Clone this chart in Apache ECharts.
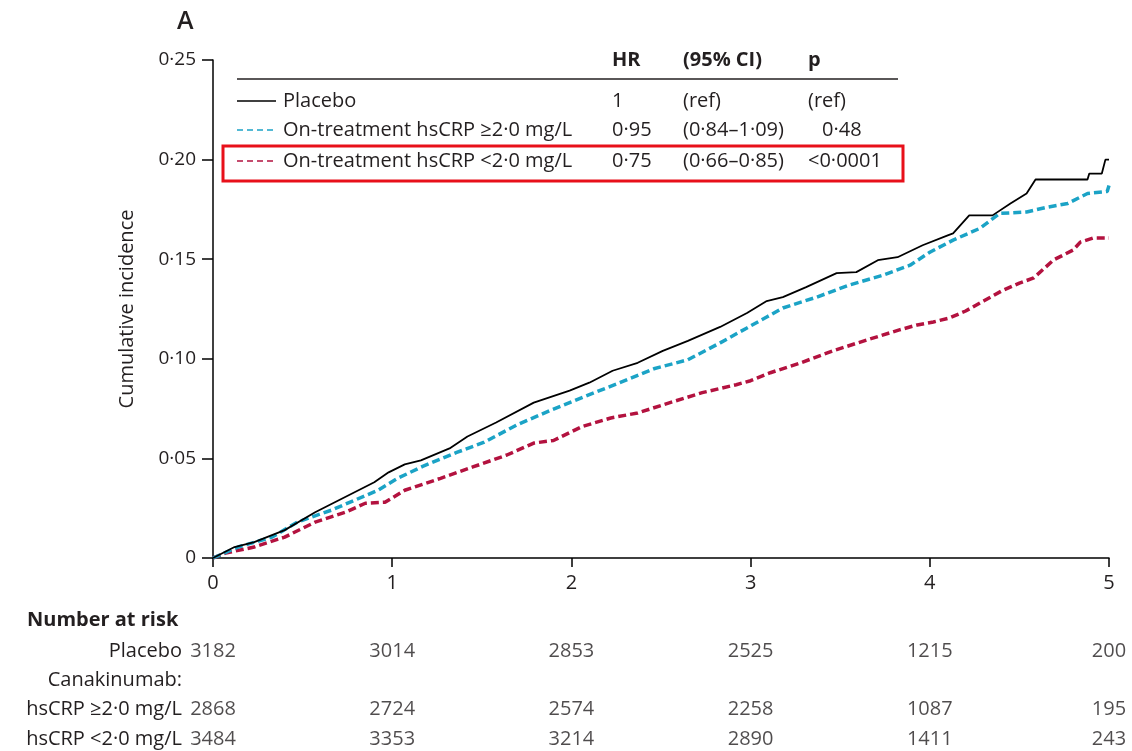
<!DOCTYPE html>
<html>
<head>
<meta charset="utf-8">
<script src="https://cdn.jsdelivr.net/npm/echarts@6/dist/echarts.min.js"></script>
<style>
  html, body { margin: 0; padding: 0; background: #fff; }
  #chart { width: 1132px; height: 751px; }
</style>
</head>
<body>
<div id="chart"></div>
<script>
// Cumulative incidence curves, [years, cumulative incidence]
const placebo = [
  [0, 0], [0.12, 0.0055], [0.23, 0.008], [0.40, 0.014], [0.57, 0.023], [0.79, 0.033],
  [0.90, 0.038], [0.98, 0.043], [1.07, 0.047], [1.16, 0.049], [1.32, 0.055], [1.42, 0.061],
  [1.58, 0.068], [1.79, 0.078], [1.99, 0.084], [2.10, 0.088], [2.23, 0.094], [2.37, 0.098],
  [2.51, 0.104], [2.65, 0.109], [2.83, 0.116], [2.98, 0.123], [3.09, 0.129], [3.18, 0.131],
  [3.31, 0.136], [3.48, 0.143], [3.59, 0.1435], [3.71, 0.1495], [3.82, 0.151], [3.96, 0.157],
  [4.10, 0.162], [4.13, 0.163], [4.22, 0.172], [4.35, 0.172], [4.45, 0.178], [4.54, 0.183],
  [4.59, 0.190], [4.88, 0.190], [4.89, 0.193], [4.96, 0.193], [4.98, 0.200], [5.0, 0.200]
];
const hsCRPHigh = [
  [0, 0], [0.14, 0.0055], [0.33, 0.0105], [0.47, 0.018], [0.66, 0.024], [0.79, 0.029],
  [0.92, 0.034], [1.03, 0.040], [1.17, 0.046], [1.36, 0.053], [1.51, 0.058], [1.70, 0.067],
  [1.88, 0.074], [1.99, 0.078], [2.10, 0.082], [2.27, 0.088], [2.46, 0.095], [2.65, 0.0995],
  [2.83, 0.108], [2.98, 0.1155], [3.09, 0.121], [3.18, 0.1255], [3.37, 0.131], [3.55, 0.137],
  [3.74, 0.142], [3.89, 0.147], [4.0, 0.1535], [4.13, 0.1596], [4.28, 0.1655], [4.39, 0.173],
  [4.54, 0.1737], [4.65, 0.176], [4.77, 0.178], [4.88, 0.183], [4.99, 0.184], [5.0, 0.187]
];
const hsCRPLow = [
  [0, 0], [0.07, 0.0025], [0.23, 0.0055], [0.40, 0.0105], [0.57, 0.018], [0.74, 0.023],
  [0.85, 0.0275], [0.96, 0.028], [1.07, 0.034], [1.27, 0.040], [1.45, 0.0457], [1.64, 0.0517],
  [1.79, 0.0577], [1.90, 0.059], [2.06, 0.066], [2.22, 0.0703], [2.37, 0.0728], [2.55, 0.078],
  [2.73, 0.083], [2.92, 0.087], [3.0, 0.089], [3.11, 0.093], [3.28, 0.098], [3.46, 0.104],
  [3.65, 0.1095], [3.83, 0.1145], [3.93, 0.117], [4.02, 0.1185], [4.11, 0.1205], [4.2, 0.124],
  [4.3, 0.129], [4.4, 0.134], [4.5, 0.138], [4.58, 0.1406], [4.69, 0.1496], [4.80, 0.1546],
  [4.84, 0.1586], [4.91, 0.1606], [5.0, 0.1606]
];

// Hazard ratio table
const groupNames = ['Placebo', 'On-treatment hsCRP \u22652\u00b70 mg/L', 'On-treatment hsCRP <2\u00b70 mg/L'];
const hrValues = ['1', '0\u00b795', '0\u00b775'];
const ciValues = ['(ref)', '(0\u00b784\u20131\u00b709)', '(0\u00b766\u20130\u00b785)'];
const pValues = ['(ref)', '0\u00b748', '<0\u00b70001'];

// Number at risk
const riskTimes = [0, 1, 2, 3, 4, 5];
const riskRows = ['Placebo', 'Canakinumab:', 'hsCRP \u22652\u00b70 mg/L', 'hsCRP <2\u00b70 mg/L'];
const riskPlacebo = [3182, 3014, 2853, 2525, 1215, 200];
const riskHigh = [2868, 2724, 2574, 2258, 1087, 195];
const riskLow = [3484, 3353, 3214, 2890, 1411, 243];

const FONT = '"Open Sans", "DejaVu Sans", sans-serif';
const FS = 20;
const TXT = '#231f20';
const colors = ['#000000', '#1ba3c6', '#b3123f'];
const dot = v => v.toFixed(2).replace('.', '\u00b7');

function riskData(values, row) {
  return riskTimes.map((t, i) => [t, riskRows[row], values[i]]);
}

const chart = echarts.init(document.getElementById('chart'), null, { renderer: 'canvas' });

// hazard ratio table drawn as graphics above the curves
const rowY = [101, 130, 161];
const pIndent = [0, 14, 0];
const textStyle = (t, extra) => Object.assign({ text: t, fontSize: FS, fontFamily: FONT, fill: TXT, verticalAlign: 'middle' }, extra || {});
const graphics = [
  { type: 'text', x: 177, y: 22, style: textStyle('A', { fontSize: 25, fontWeight: 600 }) },
  { type: 'text', x: 612, y: 60, style: textStyle('HR', { fontWeight: 'bold' }) },
  { type: 'text', x: 683, y: 60, style: textStyle('(95% CI)', { fontWeight: 'bold' }) },
  { type: 'text', x: 808, y: 60, style: textStyle('p', { fontWeight: 'bold' }) },
  { type: 'line', shape: { x1: 237, y1: 79, x2: 898, y2: 79 }, style: { stroke: TXT, lineWidth: 1.5 } },
  { type: 'rect', shape: { x: 223, y: 146, width: 680, height: 35 }, style: { fill: 'none', stroke: '#e8101a', lineWidth: 3 } },
  { type: 'text', x: 27, y: 620, style: textStyle('Number at risk', { fontWeight: 'bold' }) }
];
groupNames.forEach((name, i) => {
  const y = rowY[i];
  graphics.push({
    type: 'line', shape: { x1: 237, y1: y, x2: 276, y2: y },
    style: { stroke: colors[i], lineWidth: 1.5, lineDash: i === 0 ? null : [6, 4] }
  });
  const cells = [[283, name], [612, hrValues[i]], [683, ciValues[i]], [808 + pIndent[i], pValues[i]]];
  cells.forEach(([x, t]) => graphics.push({ type: 'text', x: x, y: y, style: textStyle(t) }));
});

const riskLabel = {
  show: true, position: 'inside', fontSize: FS, fontFamily: FONT, color: TXT,
  formatter: p => String(p.value[2])
};
const riskSeries = (values, row) => ({
  type: 'scatter', xAxisIndex: 1, yAxisIndex: 1, symbolSize: 1,
  itemStyle: { color: 'transparent' }, data: riskData(values, row), label: riskLabel
});

chart.setOption({
  animation: false,
  backgroundColor: '#fff',
  grid: [
    { left: 213, right: 23, top: 60, bottom: 193 },
    { left: 213, right: 23, top: 651, height: 88 }
  ],
  xAxis: [
    {
      type: 'value', gridIndex: 0, min: 0, max: 5, interval: 1,
      axisLine: { lineStyle: { color: '#000', width: 1.5 } },
      axisTick: { length: 9, lineStyle: { color: '#000', width: 1.5 } },
      axisLabel: { fontSize: FS, fontFamily: FONT, color: TXT, margin: 15 },
      splitLine: { show: false }
    },
    { type: 'value', gridIndex: 1, min: 0, max: 5, show: false }
  ],
  yAxis: [
    {
      type: 'value', gridIndex: 0, min: 0, max: 0.25, interval: 0.05,
      name: 'Cumulative incidence', nameLocation: 'middle', nameGap: 76, nameRotate: 90,
      nameTextStyle: { fontSize: FS, fontFamily: FONT, color: TXT },
      axisLine: { show: true, lineStyle: { color: '#000', width: 1.5 } },
      axisTick: { show: true, length: 11, lineStyle: { color: '#000', width: 1.5 } },
      axisLabel: { fontSize: 19, fontFamily: FONT, color: TXT, margin: 17, formatter: v => (v === 0 ? '0' : dot(v)) },
      splitLine: { show: false }
    },
    {
      type: 'category', gridIndex: 1, data: riskRows, inverse: true, boundaryGap: false,
      axisLine: { show: false }, axisTick: { show: false },
      axisLabel: { fontSize: FS, fontFamily: FONT, color: TXT, margin: 31 }
    }
  ],
  series: [
    {
      name: groupNames[2], type: 'line', data: hsCRPLow, showSymbol: false, symbol: 'none',
      lineStyle: { color: colors[2], width: 3.5, type: [8, 4] }, z: 2
    },
    {
      name: groupNames[1], type: 'line', data: hsCRPHigh, showSymbol: false, symbol: 'none',
      lineStyle: { color: colors[1], width: 3.5, type: [8, 4] }, z: 3
    },
    {
      name: groupNames[0], type: 'line', data: placebo, showSymbol: false, symbol: 'none',
      lineStyle: { color: colors[0], width: 1.8 }, z: 4
    },
    riskSeries(riskPlacebo, 0),
    riskSeries(riskHigh, 2),
    riskSeries(riskLow, 3)
  ],
  graphic: graphics
});
</script>
</body>
</html>
